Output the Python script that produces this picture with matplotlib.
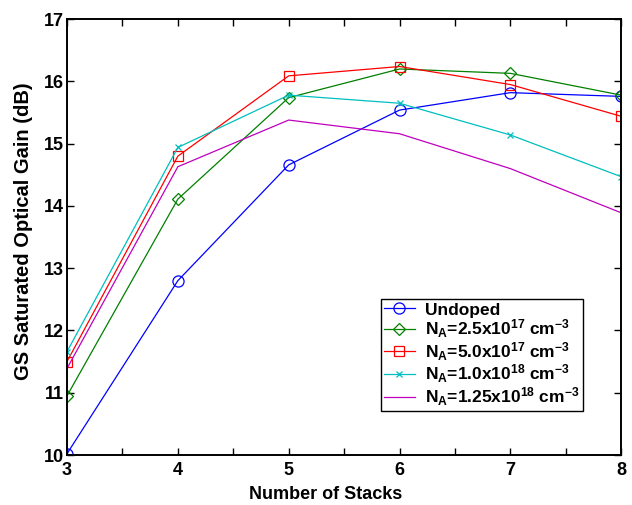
import matplotlib
matplotlib.use("Agg")
import matplotlib.pyplot as plt
import numpy as np

plt.rcParams['font.family'] = ['Liberation Sans', 'DejaVu Sans']
plt.rcParams['font.weight'] = 'bold'
plt.rcParams['mathtext.fontset'] = 'custom'
plt.rcParams['mathtext.rm'] = 'Liberation Sans:bold'
plt.rcParams['mathtext.it'] = 'Liberation Sans:bold'
plt.rcParams['mathtext.bf'] = 'Liberation Sans:bold'

stacks = [3, 4, 5, 6, 7, 8]
undoped = [10.02, 12.80, 14.66, 15.54, 15.82, 15.76]
na_25e17 = [10.95, 14.11, 15.74, 16.20, 16.13, 15.78]
na_50e17 = [11.50, 14.80, 16.09, 16.24, 15.95, 15.44]
na_10e18 = [11.66, 14.94, 15.78, 15.65, 15.14, 14.47]
na_125e18 = [11.39, 14.63, 15.38, 15.16, 14.60, 13.89]

labels = ['Undoped',
          r'N$_\mathregular{A}$=2.5x10$^\mathregular{17}$ cm$^\mathregular{-3}$',
          r'N$_\mathregular{A}$=5.0x10$^\mathregular{17}$ cm$^\mathregular{-3}$',
          r'N$_\mathregular{A}$=1.0x10$^\mathregular{18}$ cm$^\mathregular{-3}$',
          r'N$_\mathregular{A}$=1.25x10$^\mathregular{18}$ cm$^\mathregular{-3}$']
xticks = [3, 4, 5, 6, 7, 8]
yticks = [10, 11, 12, 13, 14, 15, 16, 17]

fig = plt.figure(figsize=(6.32, 5.05), dpi=100)
ax = fig.add_axes([0.106, 0.099, 0.877, 0.863])

lw = 0.9
ax.plot(stacks, undoped, color=(0, 0, 1), marker='o', ms=8, mfc='none', lw=lw, mew=0.9, label=labels[0])
ax.plot(stacks, na_25e17, color=(0, 0.5, 0), marker='D', ms=6.5, mfc='none', lw=lw, mew=0.9, label=labels[1])
ax.plot(stacks, na_50e17, color=(1, 0, 0), marker='s', ms=7.5, mfc='none', lw=lw, mew=0.9, label=labels[2])
ax.plot(stacks, na_10e18, color=(0, 0.75, 0.75), marker='x', ms=4.5, lw=lw, mew=0.9, label=labels[3])
ax.plot(stacks, na_125e18, color=(0.75, 0, 0.75), lw=lw, label=labels[4])

ax.set_xlim(3, 8)
ax.set_ylim(10, 17)
ax.set_xticks(xticks)
ax.set_xticks(np.arange(3, 8.01, 0.5), minor=True)
ax.set_yticks(yticks)
ax.tick_params(which='both', direction='in', top=True, right=True, labelsize=13, width=1)
ax.tick_params(which='major', length=5)
ax.tick_params(which='minor', length=5)
ax.tick_params(axis='y', pad=2)
ax.tick_params(axis='x', pad=5)
for s in ax.spines.values():
    s.set_linewidth(1.4)
for t in ax.get_xticklabels() + ax.get_yticklabels():
    t.set_fontweight('bold')

ax.set_xlabel('Number of Stacks', fontsize=13, fontweight='bold')
ax.xaxis.set_label_coords(0.467, -0.072)
ax.set_ylabel('GS Saturated Optical Gain (dB)', fontsize=14.5, fontweight='bold')
ax.yaxis.set_label_coords(-0.061, 0.514)

leg = ax.legend(loc='lower right', bbox_to_anchor=(0.931, 0.10), fontsize=12.5, frameon=True,
                fancybox=False, edgecolor='black', framealpha=1, handlelength=1.75,
                borderpad=0.2, labelspacing=0.0, handletextpad=0.6, borderaxespad=0)
leg.get_frame().set_linewidth(1.0)
for t in leg.get_texts():
    t.set_fontweight('bold')

fig.savefig('out.png', dpi=100)
